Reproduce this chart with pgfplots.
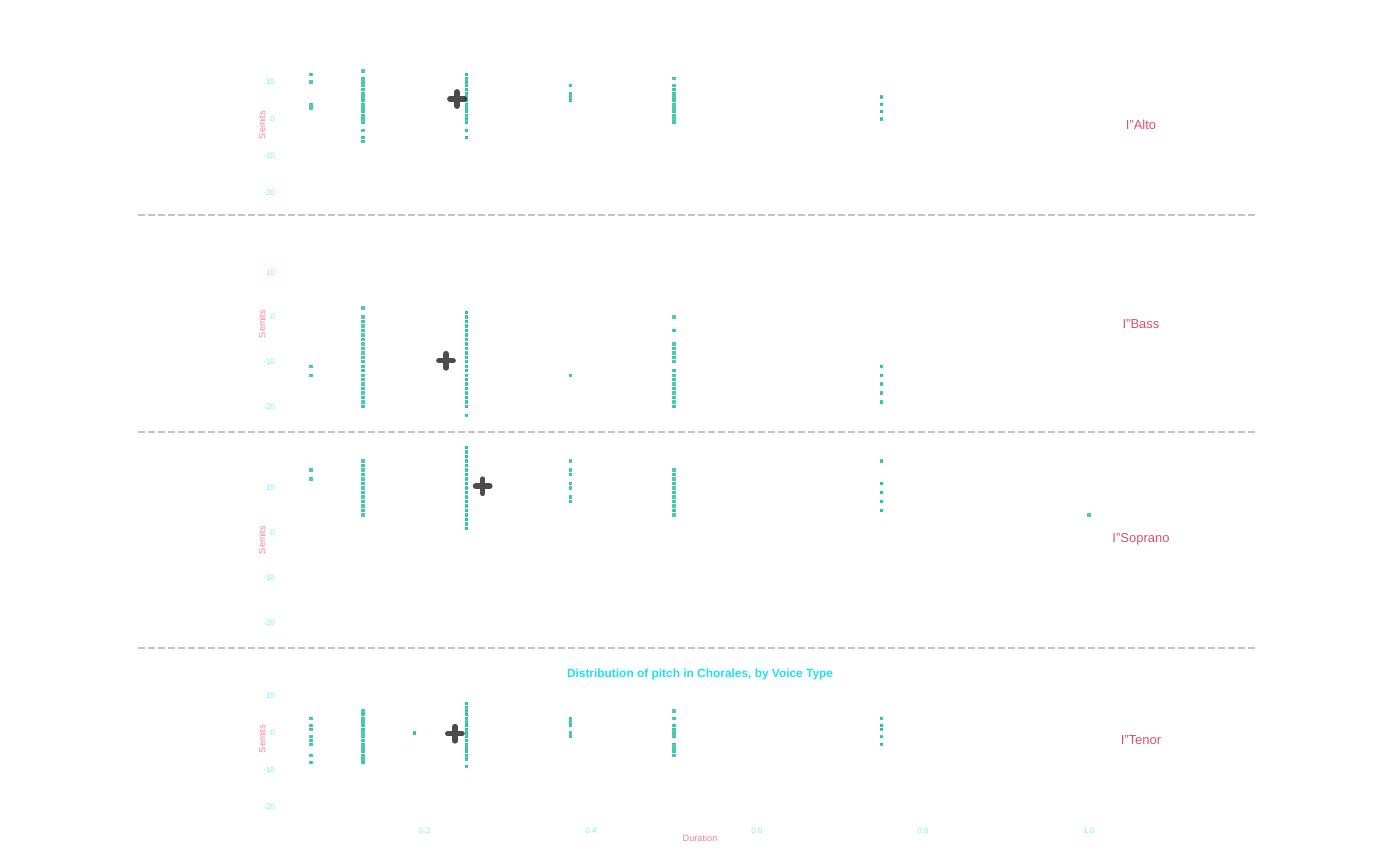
\documentclass[border=0pt]{standalone}
\usepackage{pgfplots}
\pgfplotsset{compat=1.18}
\usepackage{fontspec}
\setmainfont{Liberation Sans}
\definecolor{dotc}{RGB}{26,188,156}
\definecolor{tickc}{RGB}{130,235,240}
\definecolor{titlec}{RGB}{34,224,232}
\definecolor{pinkc}{RGB}{240,130,150}
\definecolor{stripc}{RGB}{220,80,110}
\definecolor{sepc}{RGB}{195,195,195}
\pgfplotsset{
  panel/.style={
    scale only axis, width=560pt,
    xmin=-0.145783, xmax=1.203614,
    anchor=south west, clip=false,
    axis line style={draw=none},
    tick style={draw=none}, major tick length=0pt,
    ytick={-20,-10,0,10},
    xtick=\empty,
    /pgf/number format/assume math mode=true,
    yticklabel style={font=\fontsize{4}{5}\selectfont, text=tickc, anchor=east, xshift=72pt},
    xticklabel style={font=\fontsize{4}{5}\selectfont, text=tickc, yshift=-1.5pt},
  },
  dots/.style={only marks, mark=square*, mark size=0.58pt, color=dotc, mark options={draw=none, fill=dotc, opacity=0.78}},
  meanm/.style={only marks, mark=+, mark size=3.6pt, color=black, mark options={draw=black, draw opacity=0.7, line width=2.7pt, line cap=round}},
}
\begin{document}
\begin{tikzpicture}
\path (0pt,0pt) rectangle (700pt,432.5pt);
% separators
\foreach \yy in {325,216.5,108.5} {
  \draw[sepc, line width=0.55pt, dash pattern=on 3.3pt off 1.7pt] (69pt,\yy pt) -- (629pt,\yy pt);
}
% ---------------- Alto
\begin{axis}[panel, at={(69pt,330.45pt)}, ymin=-23, ymax=16, height=72.15pt]
\addplot[dots] coordinates {
(0.0625,12)(0.0625,10)(0.0625,4)(0.0625,3)
(0.125,13)(0.125,11)(0.125,10)(0.125,9)(0.125,8)(0.125,7)(0.125,6)(0.125,5)(0.125,4)(0.125,3)(0.125,2)(0.125,1)(0.125,0)(0.125,-1)(0.125,-3)(0.125,-5)(0.125,-6)
(0.25,12)(0.25,11)(0.25,10)(0.25,9)(0.25,8)(0.25,7)(0.25,6)(0.25,5)(0.25,4)(0.25,3)(0.25,2)(0.25,1)(0.25,0)(0.25,-1)(0.25,-3)(0.25,-5)
(0.375,9)(0.375,7)(0.375,6)(0.375,5)
(0.5,11)(0.5,9)(0.5,8)(0.5,7)(0.5,6)(0.5,5)(0.5,4)(0.5,3)(0.5,2)(0.5,1)(0.5,0)(0.5,-1)
(0.75,6)(0.75,4)(0.75,2)(0.75,0)
};
\addplot[meanm] coordinates {(0.2386,5.4)};
\end{axis}
% ---------------- Bass
\begin{axis}[panel, at={(69pt,220.36pt)}, ymin=-24, ymax=13, height=82.695pt]
\addplot[dots] coordinates {
(0.0625,-11)(0.0625,-13)
(0.125,2)(0.125,0)(0.125,-1)(0.125,-2)(0.125,-3)(0.125,-4)(0.125,-5)(0.125,-6)(0.125,-7)(0.125,-8)(0.125,-9)(0.125,-10)(0.125,-11)(0.125,-12)(0.125,-13)(0.125,-14)(0.125,-15)(0.125,-16)(0.125,-17)(0.125,-18)(0.125,-19)(0.125,-20)
(0.25,1)(0.25,0)(0.25,-1)(0.25,-2)(0.25,-3)(0.25,-4)(0.25,-5)(0.25,-6)(0.25,-7)(0.25,-8)(0.25,-9)(0.25,-10)(0.25,-11)(0.25,-12)(0.25,-13)(0.25,-14)(0.25,-15)(0.25,-16)(0.25,-17)(0.25,-18)(0.25,-19)(0.25,-20)(0.25,-22)
(0.375,-13)
(0.5,0)(0.5,-3)(0.5,-6)(0.5,-7)(0.5,-8)(0.5,-9)(0.5,-10)(0.5,-12)(0.5,-13)(0.5,-14)(0.5,-15)(0.5,-16)(0.5,-17)(0.5,-18)(0.5,-19)(0.5,-20)
(0.75,-11)(0.75,-13)(0.75,-15)(0.75,-17)(0.75,-19)
};
\addplot[meanm] coordinates {(0.2253,-9.8)};
\end{axis}
% ---------------- Soprano
\begin{axis}[panel, at={(69pt,112pt)}, ymin=-24, ymax=21, height=101.25pt]
\addplot[dots] coordinates {
(0.0625,14)(0.0625,12)
(0.125,16)(0.125,15)(0.125,14)(0.125,13)(0.125,12)(0.125,11)(0.125,10)(0.125,9)(0.125,8)(0.125,7)(0.125,6)(0.125,5)(0.125,4)
(0.25,19)(0.25,18)(0.25,17)(0.25,16)(0.25,15)(0.25,14)(0.25,13)(0.25,12)(0.25,11)(0.25,10)(0.25,9)(0.25,8)(0.25,7)(0.25,6)(0.25,5)(0.25,4)(0.25,3)(0.25,2)(0.25,1)
(0.375,16)(0.375,14)(0.375,13)(0.375,11)(0.375,10)(0.375,8)(0.375,7)
(0.5,14)(0.5,13)(0.5,12)(0.5,11)(0.5,10)(0.5,9)(0.5,8)(0.5,7)(0.5,6)(0.5,5)(0.5,4)
(0.75,16)(0.75,11)(0.75,9)(0.75,7)(0.75,5)
(1.0,4)
};
\addplot[meanm] coordinates {(0.2695,10.4)};
\end{axis}
% ---------------- Tenor
\begin{axis}[panel, at={(69pt,23.45pt)}, ymin=-23, ymax=12, height=64.75pt,
  xtick={0.2,0.4,0.6,0.8,1.0}, xticklabels={0.2,0.4,0.6,0.8,1.0}]
\addplot[dots] coordinates {
(0.0625,4)(0.0625,2)(0.0625,1)(0.0625,-1)(0.0625,-2)(0.0625,-3)(0.0625,-6)(0.0625,-8)
(0.125,6)(0.125,5)(0.125,4)(0.125,3)(0.125,2)(0.125,1)(0.125,0)(0.125,-1)(0.125,-2)(0.125,-3)(0.125,-4)(0.125,-5)(0.125,-6)(0.125,-7)(0.125,-8)
(0.1875,0)
(0.25,8)(0.25,7)(0.25,6)(0.25,5)(0.25,4)(0.25,3)(0.25,2)(0.25,1)(0.25,0)(0.25,-1)(0.25,-2)(0.25,-3)(0.25,-4)(0.25,-5)(0.25,-6)(0.25,-7)(0.25,-9)
(0.375,4)(0.375,3)(0.375,2)(0.375,0)(0.375,-1)
(0.5,6)(0.5,4)(0.5,2)(0.5,1)(0.5,0)(0.5,-1)(0.5,-3)(0.5,-4)(0.5,-5)(0.5,-6)
(0.75,4)(0.75,2)(0.75,1)(0.75,-1)(0.75,-3)
};
\addplot[meanm] coordinates {(0.236,-0.2)};
\end{axis}
% texts
\foreach \yy/\lab in {370/Alto,270.5/Bass,163/Soprano,62.5/Tenor} {
  \node[text=stripc, font=\fontsize{6.5}{8}\selectfont, inner sep=0pt] at (570.5pt,\yy pt) {I"\lab};
}
\foreach \yy in {370,270.5,162.5,63} {
  \node[text=pinkc, font=\fontsize{4.6}{5.5}\selectfont, rotate=90, inner sep=0pt] at (131pt,\yy pt) {Semits};
}
\node[text=titlec, font=\bfseries\fontsize{5.95}{7.2}\selectfont, inner sep=0pt] at (350pt,95.5pt) {Distribution of pitch in Chorales, by Voice Type};
\node[text=pinkc, font=\fontsize{4.6}{5.5}\selectfont, inner sep=0pt] at (350pt,13.5pt) {Duration};
\end{tikzpicture}
\end{document}
